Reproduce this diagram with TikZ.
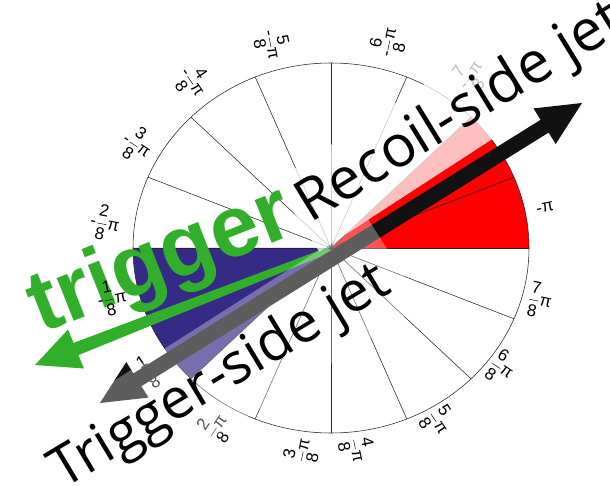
\documentclass[tikz,border=0pt]{standalone}
\usepackage{amsmath}
\usepackage{fontspec}
\setmainfont{Liberation Sans}
\newfontfamily\jetfont{Open Sans}
\newfontfamily\trigfont{Liberation Sans}
\definecolor{redw}{RGB}{255,0,0}
\definecolor{bluew}{RGB}{54,42,135}
\definecolor{arrowk}{RGB}{17,17,17}
\definecolor{trgreen}{RGB}{50,175,42}
\newcommand{\pfr}[2]{#1$\genfrac{}{}{0.5pt}{0}{\hbox{#2}}{\hbox{8}}$π}
\tikzset{
  lab/.style={font=\fontsize{17}{17}\selectfont, inner sep=0pt, anchor=center},
  spoke/.style={draw=black!85, line width=0.55pt},
  jet/.style={font=\jetfont\fontsize{#1}{#1}\selectfont, inner sep=0pt, anchor=base west},
  veil/.style={fill=white}
}
\begin{document}
\begin{tikzpicture}[x=1pt,y=-1pt]
\fill[white] (0,0) rectangle (610,486);
\useasboundingbox (0,0) rectangle (610,486);
\coordinate (C) at (331,248);
% wedges
\fill[redw] (C) -- plot[domain=0:45,samples=40] ({331+198*cos(\x)},{248-185*sin(\x)}) -- cycle;
\fill[bluew] (C) -- plot[domain=180:225,samples=40] ({331+198*cos(\x)},{248-185*sin(\x)}) -- cycle;
% spokes and rim
\foreach \a in {0,22.5,...,337.5}
  \draw[spoke] (C) -- ({331+198*cos(\a)},{248-185*sin(\a)});
\draw[spoke] (C) ellipse[x radius=198, y radius=185];
% green arrow and trigger word
\fill[trgreen] (35,365) -- (84,368.5) -- (78.4,355.1) -- (330.1,252.8) -- (327.9,247.2) -- (73.6,342.9) -- (68,329.5) -- cycle;
\node[font=\trigfont\bfseries\fontsize{87}{87}\selectfont, text=trgreen, rotate=21.5, anchor=base west, inner sep=0pt] (trig) at (41,334) {trigger};
% labels
\node[lab, rotate=11.25] (l0) at (545,208) {-π};
\node[lab, rotate=56.25] (l1) at (470,75) {\pfr{-}{7}};
\node[lab, rotate=78.75] (l2) at (388,42) {\pfr{-}{6}};
\node[lab, rotate=-78.75] (l3) at (272,45) {\pfr{-}{5}};
\node[lab, rotate=-56.25] (l4) at (193,82) {\pfr{-}{4}};
\node[lab, rotate=-33.75] (l5) at (137,145) {\pfr{-}{3}};
\node[lab, rotate=-11.25] (l6) at (105,223) {\pfr{-}{2}};
\node[lab, rotate=11.25] (l7) at (112,298) {\pfr{-}{1}};
\node[lab, rotate=33.75] (l8) at (153,369) {\pfr{}{1}};
\node[lab, rotate=56.25] (l9) at (216,426) {\pfr{}{2}};
\node[lab, rotate=78.75] (l10) at (302,450) {\pfr{}{3}};
\node[lab, rotate=-78.75] (l11) at (357,450) {\pfr{}{4}};
\node[lab, rotate=-56.25] (l12) at (438,422) {\pfr{}{5}};
\node[lab, rotate=-33.75] (l13) at (502,368) {\pfr{}{6}};
\node[lab, rotate=-11.25] (l14) at (540,300) {\pfr{}{7}};
% recoil veil
\fill[veil, fill opacity=0.75] (319.2,251.5) -- (274,181.9) -- (647.4,-60.6) -- (692.6,9) -- cycle;
% black double arrow
\fill[arrowk] (100,403) -- (148.5,397.6) -- (141.4,386.2) -- (548.6,132.6) -- (555.7,144) -- (582,103)
  -- (533.5,108.4) -- (540.6,119.8) -- (133.4,373.4) -- (126.3,362) -- cycle;
% trigger veil
\fill[veil, fill opacity=0.32] (368,219) -- (422.8,305) -- (-83,627.2) -- (-137.8,541.2) -- cycle;
% texts
\node[jet=58, rotate=31.5] (rec) at (310,224) {Recoil-side jet};
\node[jet=56, rotate=31] (trg) at (63,490) {Trigger-side jet};
\end{tikzpicture}
\end{document}
